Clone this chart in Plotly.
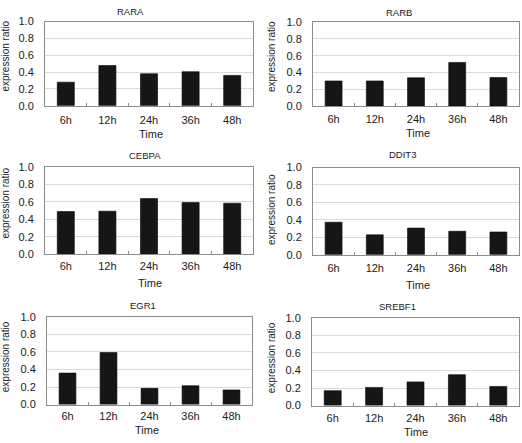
import plotly.graph_objects as go

W, H = 522, 443

categories = ["6h", "12h", "24h", "36h", "48h"]
genes = ["RARA", "RARB", "CEBPA", "DDIT3", "EGR1", "SREBF1"]
rara = [0.28, 0.477, 0.38, 0.404, 0.36]
rarb = [0.30, 0.30, 0.337, 0.52, 0.34]
cebpa = [0.489, 0.493, 0.637, 0.593, 0.585]
ddit3 = [0.373, 0.228, 0.306, 0.269, 0.261]
egr1 = [0.359, 0.593, 0.185, 0.215, 0.167]
srebf1 = [0.17, 0.207, 0.27, 0.352, 0.218]
y_ticks = [0.0, 0.2, 0.4, 0.6, 0.8, 1.0]
y_tick_labels = ["0.0", "0.2", "0.4", "0.6", "0.8", "1.0"]
values = [rara, rarb, cebpa, ddit3, egr1, srebf1]

# plot boxes in pixel coordinates: (x0, x1, ytop, ybottom)
boxes = [
    (45, 253, 16, 102.5),
    (313, 519, 16.5, 103),
    (45, 253, 165.3, 255.3),
    (313, 519, 166, 255.7),
    (47, 252, 319.5, 409.7),
    (312, 519, 320.5, 410.7),
]
title_pos = [(130, 6), (399, 6.3), (145, 154), (402.7, 153), (143.3, 307.7), (397, 309)]
time_pos = [(150.7, 131.7), (417.7, 130.7), (150, 284.7), (417.7, 286.3), (147.3, 436), (416, 437.7)]
ylab_pos = [(6, 52), (271, 52.5), (6, 203), (271, 209.7), (5, 361), (271, 362)]
xlab_standoff = [4, 3, 1, 3, 1, 2]

font_family = "Liberation Sans, Arial, sans-serif"
text_color = "#1a1a1a"

fig = go.Figure()
annotations = []
for i, (g, vals) in enumerate(zip(genes, values)):
    x0, x1, yt, yb = boxes[i]
    xa = "xaxis" if i == 0 else f"xaxis{i+1}"
    ya = "yaxis" if i == 0 else f"yaxis{i+1}"
    xr = "x" if i == 0 else f"x{i+1}"
    yr = "y" if i == 0 else f"y{i+1}"
    fig.add_trace(go.Bar(
        x=categories, y=vals, xaxis=xr, yaxis=yr,
        marker=dict(color="#161616", line=dict(color="#000000", width=0.6)),
        showlegend=False, hoverinfo="x+y",
    ))
    fig.layout[xa] = dict(
        domain=[x0 / W, x1 / W], anchor=yr, type="category",
        showline=True, mirror=True, linecolor="#8c8c8c", linewidth=1,
        ticks="inside", tickson="boundaries", ticklen=3, tickcolor="#8c8c8c",
        showgrid=False, tickfont=dict(size=11, color=text_color, family=font_family),
        ticklabelstandoff=xlab_standoff[i], fixedrange=True,
    )
    fig.layout[ya] = dict(
        domain=[1 - yb / H, 1 - yt / H], anchor=xr, range=[0, 1.0],
        tickvals=y_ticks, ticktext=y_tick_labels,
        showline=True, mirror=True, linecolor="#8c8c8c", linewidth=1,
        showgrid=True, gridcolor="#d9d9d9", gridwidth=1, zeroline=False,
        ticks="", tickfont=dict(size=11, color=text_color, family=font_family),
        ticklabelstandoff=8, fixedrange=True,
    )
    tx, ty = title_pos[i]
    annotations.append(dict(text=g, x=tx / W, y=1 - ty / H, xref="paper", yref="paper",
                            showarrow=False, xanchor="center", yanchor="middle",
                            font=dict(size=9.5, color=text_color, family=font_family)))
    tx, ty = time_pos[i]
    annotations.append(dict(text="Time", x=tx / W, y=1 - ty / H, xref="paper", yref="paper",
                            showarrow=False, xanchor="center", yanchor="middle",
                            font=dict(size=11, color=text_color, family=font_family)))
    tx, ty = ylab_pos[i]
    annotations.append(dict(text="expression ratio", x=tx / W, y=1 - ty / H, xref="paper", yref="paper",
                            showarrow=False, xanchor="center", yanchor="middle", textangle=-90,
                            font=dict(size=10, color=text_color, family=font_family)))

fig.update_layout(
    width=W, height=H, margin=dict(l=0, r=0, t=0, b=0),
    paper_bgcolor="white", plot_bgcolor="white",
    bargap=0.59, annotations=annotations,
    font=dict(family=font_family, color=text_color),
)
fig.write_html(
    "out.html",
    config={"displayModeBar": False},
    post_script="document.body.style.margin='0';document.body.style.overflow='hidden';",
)
